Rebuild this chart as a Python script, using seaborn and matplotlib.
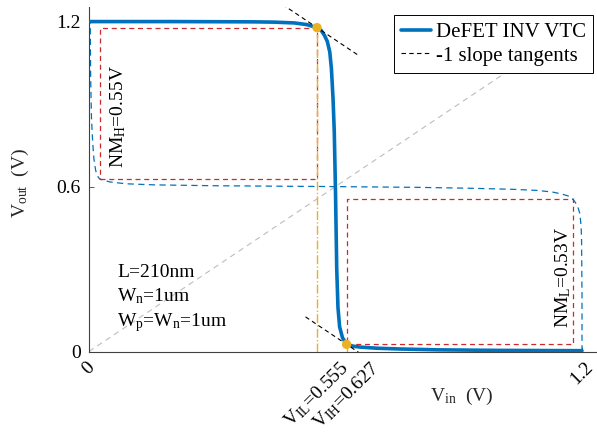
import numpy as np
import pandas as pd
import matplotlib
matplotlib.use("Agg")
import matplotlib.pyplot as plt
import seaborn as sns

# ---- data ----
vin = [0.0, 0.2, 0.4, 0.45, 0.5, 0.53, 0.555, 0.565, 0.573, 0.58, 0.586, 0.590,
       0.594, 0.597, 0.600, 0.603, 0.606, 0.610, 0.617, 0.627, 0.64, 0.66, 0.70,
       0.76, 0.85, 1.0, 1.2]
vout = [1.2, 1.2, 1.199, 1.198, 1.195, 1.189, 1.178, 1.168, 1.150, 1.128, 1.09, 1.03,
        0.92, 0.80, 0.58, 0.30, 0.16, 0.09, 0.05, 0.026, 0.020, 0.016, 0.012,
        0.009, 0.006, 0.004, 0.003]
VIL, VIH = 0.555, 0.627
VOH, VOL = 1.178, 0.026
diag = [0.0, 1.2]
tan_half = 0.1
xticks = [0.0, VIL, VIH, 1.2]
xticklabels = ["0", r"V$_{\mathrm{IL}}$=0.555", r"V$_{\mathrm{IH}}$=0.627", "1.2"]
yticks = [0.0, 0.6, 1.2]
yticklabels = ["0", "0.6", "1.2"]
params = ["L=210nm", r"W$_{\mathrm{n}}$=1um", r"W$_{\mathrm{p}}$=W$_{\mathrm{n}}$=1um"]
nmh_label = r"NM$_{\mathrm{H}}$=0.55V"
nml_label = r"NM$_{\mathrm{L}}$=0.53V"

sns.set_theme(style="white")
plt.rcParams.update({
    "font.family": ["Liberation Serif", "DejaVu Serif"],
    "mathtext.fontset": "custom",
    "mathtext.rm": "Liberation Serif",
    "mathtext.it": "Liberation Serif:italic",
    "mathtext.bf": "Liberation Serif:bold",
    "font.size": 14,
    "text.color": "black",
})

BLUE = "#0072BD"
RED = "#CC2A2A"
YEL = "#EDB120"

fig = plt.figure(figsize=(5.97, 4.33), dpi=100)
W, H = 597, 433
ax = fig.add_axes([89 / W, (H - 351.5) / H, (W - 89) / W, (351.5 - 7) / H])

df = pd.DataFrame({"Vin": vin, "Vout": vout})

# y = x reference
ax.plot(diag, diag, color="#BDBDBD", lw=0.8, linestyle=(0, (5, 4)), zorder=1)

# mirrored VTC
sns.lineplot(data=df, x="Vout", y="Vin", sort=False, estimator=None, ax=ax,
             color=BLUE, lw=0.9, linestyle=(0, (5, 3.5)), zorder=2)

# noise-margin rectangles
ax.plot([VOL, VIL, VIL, VOL, VOL], [VIH, VIH, VOH, VOH, VIH],
        color=RED, lw=0.9, linestyle=(0, (4, 3)), zorder=3)
ax.plot([VIH, VOH, VOH, VIH, VIH], [VOL, VOL, VIL, VIL, VOL],
        color=RED, lw=0.9, linestyle=(0, (4, 3)), zorder=3)

# yellow guide lines
ax.plot([VIL, VIL], [0, VOH], color=YEL, lw=1.0, linestyle="-.", zorder=3)
ax.plot([VIH, VIH], [0, VOL], color=YEL, lw=1.0, linestyle="-.", zorder=3)

# main VTC
sns.lineplot(data=df, x="Vin", y="Vout", sort=False, estimator=None, ax=ax,
             color=BLUE, lw=2.6, zorder=4, label="DeFET INV VTC")

# tangents
for i, (xi, yi) in enumerate([(VIL, VOH), (VIH, VOL)]):
    ax.plot([xi - tan_half, xi + tan_half], [yi + tan_half, yi - tan_half],
            color="black", lw=0.8, linestyle=(0, (4, 3)), zorder=5,
            label="-1 slope tangents" if i == 0 else None)

sns.scatterplot(x=[VIL, VIH], y=[VOH, VOL], color=YEL, s=45, edgecolor="none",
                zorder=6, ax=ax, legend=False)

ax.set_xlim(0, 1.2365)
ax.set_ylim(0, 1.253)
ax.set_xticks(xticks)
ax.set_xticklabels(xticklabels, rotation=45, ha="center")
ax.set_yticks(yticks)
ax.set_yticklabels(yticklabels)
ax.tick_params(axis="both", direction="in", length=3.5, width=0.6,
               color="#404040", labelcolor="black", labelsize=14,
               bottom=True, left=True)
ax.tick_params(axis="x", pad=5)
ax.tick_params(axis="y", pad=6)
sns.despine(ax=ax)
for s in ["left", "bottom"]:
    ax.spines[s].set_color("#404040")
    ax.spines[s].set_linewidth(0.8)

ax.set_xlabel(r"V$_{\mathrm{in}}$  (V)", fontsize=14)
ax.set_ylabel(r"V$_{\mathrm{out}}$  (V)", fontsize=14)
ax.xaxis.set_label_coords((462 - 89) / 508, (351.5 - 386) / 344.5)
ax.yaxis.set_label_coords((31 - 89) / 508, (351.5 - 183) / 344.5)

# annotations
ax.text(0.072, 0.855, nmh_label, rotation=90, ha="center", va="center", fontsize=14)
ax.text(1.154, 0.27, nml_label, rotation=90, ha="center", va="center", fontsize=14)
for txt, yb in zip(params, [0.271, 0.182, 0.093]):
    ax.text(0.068, yb, txt, ha="left", va="baseline", fontsize=14)

leg = ax.legend(loc="upper right", bbox_to_anchor=(593 / W, 1 - 15 / H),
                bbox_transform=fig.transFigure, borderaxespad=0,
                fontsize=15, handlelength=1.4, handletextpad=0.25,
                labelspacing=0.2, borderpad=0.35, fancybox=False,
                framealpha=1, edgecolor="black")
leg.get_frame().set_linewidth(0.7)

fig.savefig("out.png", dpi=100)
